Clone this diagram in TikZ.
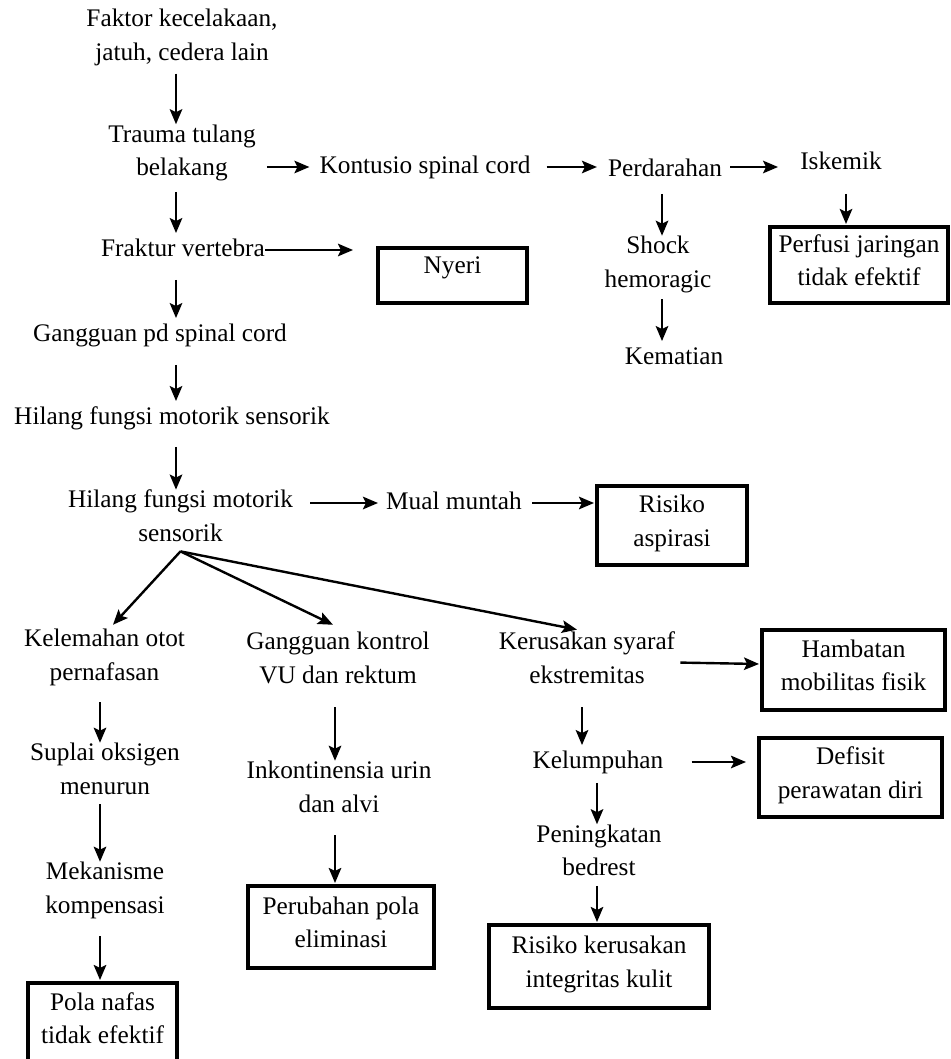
\documentclass[tikz,border=0pt]{standalone}
\usepackage{fontspec}
\setmainfont{Liberation Serif}
\usetikzlibrary{arrows.meta,calc}
\newcommand{\diagfont}{\fontsize{25.3}{33.5}\selectfont}
\begin{document}
\begin{tikzpicture}[x=1pt,y=-1pt,
  txt/.style={inner sep=0pt, align=center, font=\diagfont,
    execute at begin node=\strut, execute at end node=\strut},
  box/.style={draw, line width=4pt, inner sep=0pt, align=center, font=\diagfont,
    execute at begin node=\strut, execute at end node=\strut},
  arr/.style={line width=2.4pt, -{Stealth[length=15pt,width=12.5pt,inset=3pt]}}]
\useasboundingbox (0,0) rectangle (950,1059);
% column coordinates
\coordinate (colA) at (176,0);
\coordinate (colP) at (662,0);
\coordinate (colI) at (846,0);
\coordinate (colL) at (100,0);
\coordinate (colM) at (335,0);
\coordinate (colR) at (582,0);
\coordinate (colS) at (597,0);
% text nodes
\node[txt] (fak) at (182,40) {Faktor kecelakaan,\\jatuh, cedera lain};
\node[txt] (tra) at (182,155) {Trauma tulang\\belakang};
\node[txt] (kon) at (425,167) {Kontusio spinal cord};
\node[txt] (per) at (665,170) {Perdarahan};
\node[txt] (isk) at (841,163) {Iskemik};
\node[txt] (sho) at (658,266.5) {Shock\\hemoragic};
\node[txt] (kem) at (674,358) {Kematian};
\node[txt] (fra) at (183,250) {Fraktur vertebra};
\node[txt] (gan) at (160,335) {Gangguan pd spinal cord};
\node[txt] (hia) at (172,418) {Hilang fungsi motorik sensorik};
\node[txt] (hib) at (180.5,520.5) {Hilang fungsi motorik\\sensorik};
\node[txt] (mua) at (454,503) {Mual muntah};
\node[txt] (kel) at (104.5,659.5) {Kelemahan otot\\pernafasan};
\node[txt] (gk) at (338,662.5) {Gangguan kontrol\\VU dan rektum};
\node[txt] (ker) at (587,662.5) {Kerusakan syaraf\\ekstremitas};
\node[txt] (sup) at (105,773.5) {Suplai oksigen\\menurun};
\node[txt] (mek) at (105,892.5) {Mekanisme\\kompensasi};
\node[txt] (ink) at (339,791.5) {Inkontinensia urin\\dan alvi};
\node[txt] (klp) at (598,762) {Kelumpuhan};
\node[txt] (pen) at (599,855) {Peningkatan\\bedrest};
% boxes
\node[box, minimum width=149pt, minimum height=55pt, text depth=27pt] (nye) at (452.5,275.5) {Nyeri};
\node[box, minimum width=178pt, minimum height=76pt] (prf) at (859,265) {Perfusi jaringan\\tidak efektif};
\node[box, minimum width=150pt, minimum height=79pt] (ras) at (672,525.5) {Risiko\\aspirasi};
\node[box, minimum width=183pt, minimum height=80pt] (ham) at (853.5,670) {Hambatan\\mobilitas fisik};
\node[box, minimum width=183pt, minimum height=79pt] (def) at (850.5,777.5) {Defisit\\perawatan diri};
\node[box, minimum width=186pt, minimum height=82pt] (pru) at (341,927) {Perubahan pola\\eliminasi};
\node[box, minimum width=220pt, minimum height=83pt] (rkk) at (599,966.5) {Risiko kerusakan\\integritas kulit};
\node[box, minimum width=149pt, minimum height=80pt] (pol) at (102.5,1023) {Pola nafas\\tidak efektif};
% main column
\draw[arr, shorten <=3pt] (fak.south -| colA) -- (tra.north -| colA);
\draw[arr, shorten <=6pt] (tra.south -| colA) -- (fra.north -| colA);
\draw[arr, shorten <=13pt] (fra.south -| colA) -- (gan.north -| colA);
\draw[arr, shorten <=13pt] (gan.south -| colA) -- (hia.north -| colA);
\draw[arr, shorten <=12pt] (hia.south -| colA) -- (hib.north -| colA);
% top row
\draw[arr, shorten <=11pt, shorten >=10pt] (tra.east |- kon.west) -- (kon.west);
\draw[arr, shorten <=16pt, shorten >=11pt] (kon.east) -- (per.west |- kon.east);
\draw[arr, shorten <=8pt, shorten >=22pt] (per.east |- kon.east) -- (isk.west |- kon.east);
\draw[arr, shorten <=14pt, shorten >=1pt] (isk.south -| colI) -- (prf.north -| colI);
\draw[arr, shorten <=7pt] (per.south -| colP) -- (sho.north -| colP);
\draw[arr, shorten <=2pt] (sho.south -| colP) -- (kem.north -| colP);
\draw[arr, shorten >=23pt] (fra.east) -- (nye.west |- fra.east);
% middle
\draw[arr, shorten <=17pt, shorten >=8pt] (hib.east |- mua.west) -- (mua.west);
\draw[arr, shorten <=10pt, shorten >=1pt] (mua.east) -- (ras.west |- mua.east);
\draw[arr] (hib.south) -- ($(kel.north)+(8.5,-4)$);
\draw[arr] (hib.south) -- ($(gk.north)+(-5,-7)$);
\draw[arr] (hib.south) -- ($(ker.north)+(-10,-2)$);
\draw[arr, shorten <=5pt, shorten >=1pt] (ker.east) -- ($(ham.west)+(0,-6)$);
% left column
\draw[arr, shorten <=12pt] (kel.south -| colL) -- (sup.north -| colL);
\draw[arr] (sup.south -| colL) -- (mek.north -| colL);
\draw[arr, shorten <=13pt, shorten >=1pt] (mek.south -| colL) -- (pol.north -| colL);
% middle column
\draw[arr, shorten <=14pt] (gk.south -| colM) -- (ink.north -| colM);
\draw[arr, shorten <=13pt, shorten >=1pt] (ink.south -| colM) -- (pru.north -| colM);
% right column
\draw[arr, shorten <=14pt] (ker.south -| colR) -- (klp.north -| colR);
\draw[arr, shorten <=28pt, shorten >=11pt] (klp.east) -- (def.west |- klp.east);
\draw[arr, shorten <=4pt] (klp.south -| colS) -- (pen.north -| colS);
\draw[arr, shorten >=1pt] (pen.south -| colS) -- (rkk.north -| colS);
\end{tikzpicture}
\end{document}
